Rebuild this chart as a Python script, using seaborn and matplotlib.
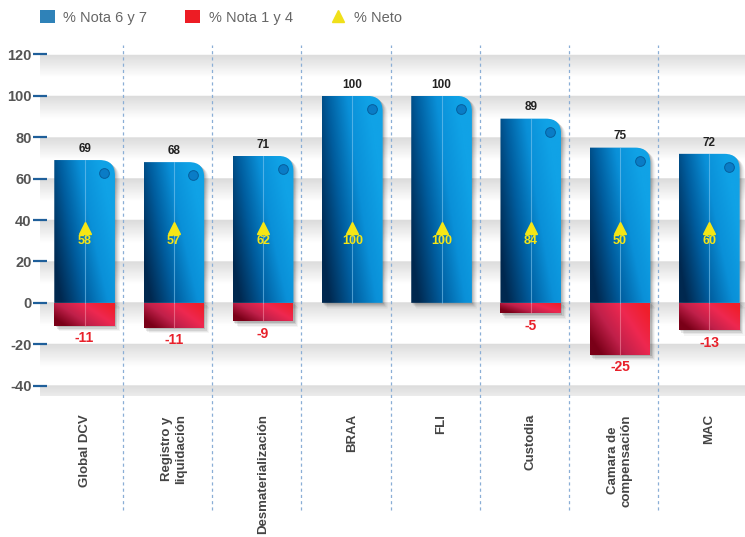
import seaborn as sns
import matplotlib.pyplot as plt
import numpy as np
from matplotlib.path import Path
from matplotlib.patches import PathPatch, Patch
from matplotlib.lines import Line2D
from matplotlib.colors import LinearSegmentedColormap

# data
categories = ["Global DCV", "Registro y\nliquidación", "Desmaterialización", "BRAA",
              "FLI", "Custodia", "Camara de\ncompensación", "MAC"]
nota_67 = [69, 68, 71, 100, 100, 89, 75, 72]
nota_14 = [-11, -12, -9, 0, 0, -5, -25, -13]
nota_14_labels = [-11, -11, -9, None, None, -5, -25, -13]
neto = [58, 57, 62, 100, 100, 84, 50, 60]

sns.set_theme(style="white")
plt.rcParams['font.family'] = ['Liberation Sans', 'DejaVu Sans']
plt.rcParams['axes.unicode_minus'] = False

fig = plt.figure(figsize=(7.45, 5.37), dpi=100)
ax = fig.add_axes([40 / 745, 1 - 396 / 537, 705 / 745, 356 / 537])

sns.barplot(x=categories, y=nota_67, ax=ax, width=0.68, color="#0077c0")
sns.barplot(x=categories, y=nota_14, ax=ax, width=0.68, color="#e8203a")

ax.set_xlim(-0.5, 7.4)
ax.set_ylim(-45, 127)

# background: grey bands fading below each gridline
yy = np.linspace(127, -45, 600)
d = np.mod(-yy, 20)
d = np.where(d > 19.9, 0, d)
shade = 1 - 0.14 * np.clip(1 - d / 11, 0, 1)
bg = np.repeat(shade[:, None], 2, axis=1)
ax.imshow(bg, extent=(-0.5, 7.4, -45, 127), aspect="auto", cmap="gray",
          vmin=0, vmax=1, zorder=0, interpolation="bilinear")

blue_cmap = LinearSegmentedColormap.from_list("b", ["#00284f", "#005d9e", "#0a90d8", "#10a2e6"])
red_cmap = LinearSegmentedColormap.from_list("r", ["#7a0018", "#c0204a", "#ee2850", "#f01e2a"])

gx, gy = np.meshgrid(np.linspace(0, 1, 80), np.linspace(1, 0, 80))


def bar_path(x0, x1, y0, y1, rounded):
    rx, ry = 0.17, 7.5
    if rounded:
        verts = [(x0, y0), (x1, y0), (x1, y1 - ry), (x1, y1), (x1 - rx, y1),
                 (x0, y1), (x0, y0)]
        codes = [Path.MOVETO, Path.LINETO, Path.LINETO, Path.CURVE3, Path.CURVE3,
                 Path.LINETO, Path.CLOSEPOLY]
    else:
        verts = [(x0, y0), (x1, y0), (x1, y1), (x0, y1), (x0, y0)]
        codes = [Path.MOVETO, Path.LINETO, Path.LINETO, Path.LINETO, Path.CLOSEPOLY]
    return Path(verts, codes)


for i, p in enumerate(ax.patches):
    x0 = p.get_x()
    x1 = x0 + p.get_width()
    y0 = min(p.get_y(), p.get_y() + p.get_height())
    y1 = max(p.get_y(), p.get_y() + p.get_height())
    p.set_visible(False)
    if y1 - y0 <= 0:
        continue
    positive = i < len(categories)
    # soft shadow
    for k, a in enumerate([0.12, 0.09, 0.06, 0.04]):
        off = 0.014 * (k + 1)
        ax.add_patch(PathPatch(bar_path(x0 + off, x1 + off, y0 - 0.7 * (k + 1), y1 - 0.5 * (k + 1), positive),
                               facecolor="#000000", edgecolor="none", alpha=a, zorder=2))
    path = bar_path(x0, x1, y0, y1, positive)
    clip = PathPatch(path, facecolor="none", edgecolor="none", zorder=3)
    ax.add_patch(clip)
    if positive:
        grad = np.clip(0.85 * gx + 0.35 * gy - 0.1 + 0.15 * gx * gy, 0, 1)
        cmap = blue_cmap
    else:
        grad = np.clip(0.8 * gx + 0.45 * gy - 0.15, 0, 1)
        cmap = red_cmap
    im = ax.imshow(grad, extent=(x0, x1, y0, y1), aspect="auto", cmap=cmap,
                   vmin=0, vmax=1, zorder=3, interpolation="bilinear")
    im.set_clip_path(clip)
    xc = (x0 + x1) / 2
    ax.plot([xc, xc], [y0, y1], color="#7fc6f0" if positive else "#f58aa0",
            lw=0.8, alpha=0.6, zorder=4)
    if positive:
        ax.plot(x1 - 0.12, y1 - 6.3, marker="o", markersize=7,
                markerfacecolor="#0a7cc6", markeredgecolor="#065f9e",
                markeredgewidth=0.7, zorder=5)

# value labels
for i in range(len(categories)):
    ax.text(i, nota_67[i] + 2.5, str(nota_67[i]), ha="center", va="bottom",
            fontsize=8.5, fontweight="bold", color="#222222", zorder=6)
    ax.plot(i, 36, marker="^", markersize=8.5, color="#f5e615", zorder=6,
            markeredgecolor="#f5e615")
    ax.text(i, 30, str(neto[i]), ha="center", va="center",
            fontsize=9, fontweight="bold", color="#f5e615", zorder=6)
    if nota_14_labels[i] is not None:
        ax.text(i, nota_14[i] - 2.8, str(nota_14_labels[i]), ha="center", va="top",
                fontsize=10, fontweight="bold", color="#e8202a", zorder=6)

# dashed separators
for i in range(len(categories) - 1):
    ax.axvline(i + 0.43, ymin=-0.32, ymax=0.985, color="#8aaed6", lw=0.9,
               ls=(0, (2.5, 2.5)), clip_on=False, zorder=1)

ax.set_yticks(range(-40, 121, 20))
ax.tick_params(axis="y", direction="inout", length=10, width=1.6, color="#1f5f9a",
               labelsize=10.5, labelcolor="#555555", pad=1, left=True)
for lab in ax.get_yticklabels():
    lab.set_fontweight("bold")
ax.set_xticks(range(len(categories)))
ax.set_xticklabels(categories, rotation=90, fontsize=9.5, fontweight="bold",
                   color="#444444", ha="center", va="top", multialignment="center")
ax.tick_params(axis="x", length=0, pad=13)
ax.set_xlabel("")
ax.set_ylabel("")
for s in ax.spines.values():
    s.set_visible(False)

handles = [Patch(facecolor="#2f82b8", edgecolor="none"),
           Patch(facecolor="#ed1c24", edgecolor="none"),
           Line2D([], [], marker="^", color="#f0e01a", ls="none", markersize=9)]
fig.legend(handles, ["% Nota 6 y 7", "% Nota 1 y 4", "% Neto"], ncol=3,
           loc="upper left", bbox_to_anchor=(0.036, 1.005), frameon=False,
           fontsize=10.5, labelcolor="#666666", columnspacing=2.6,
           handlelength=1.0, handleheight=1.0, handletextpad=0.6)

fig.savefig("out.png", dpi=100)
